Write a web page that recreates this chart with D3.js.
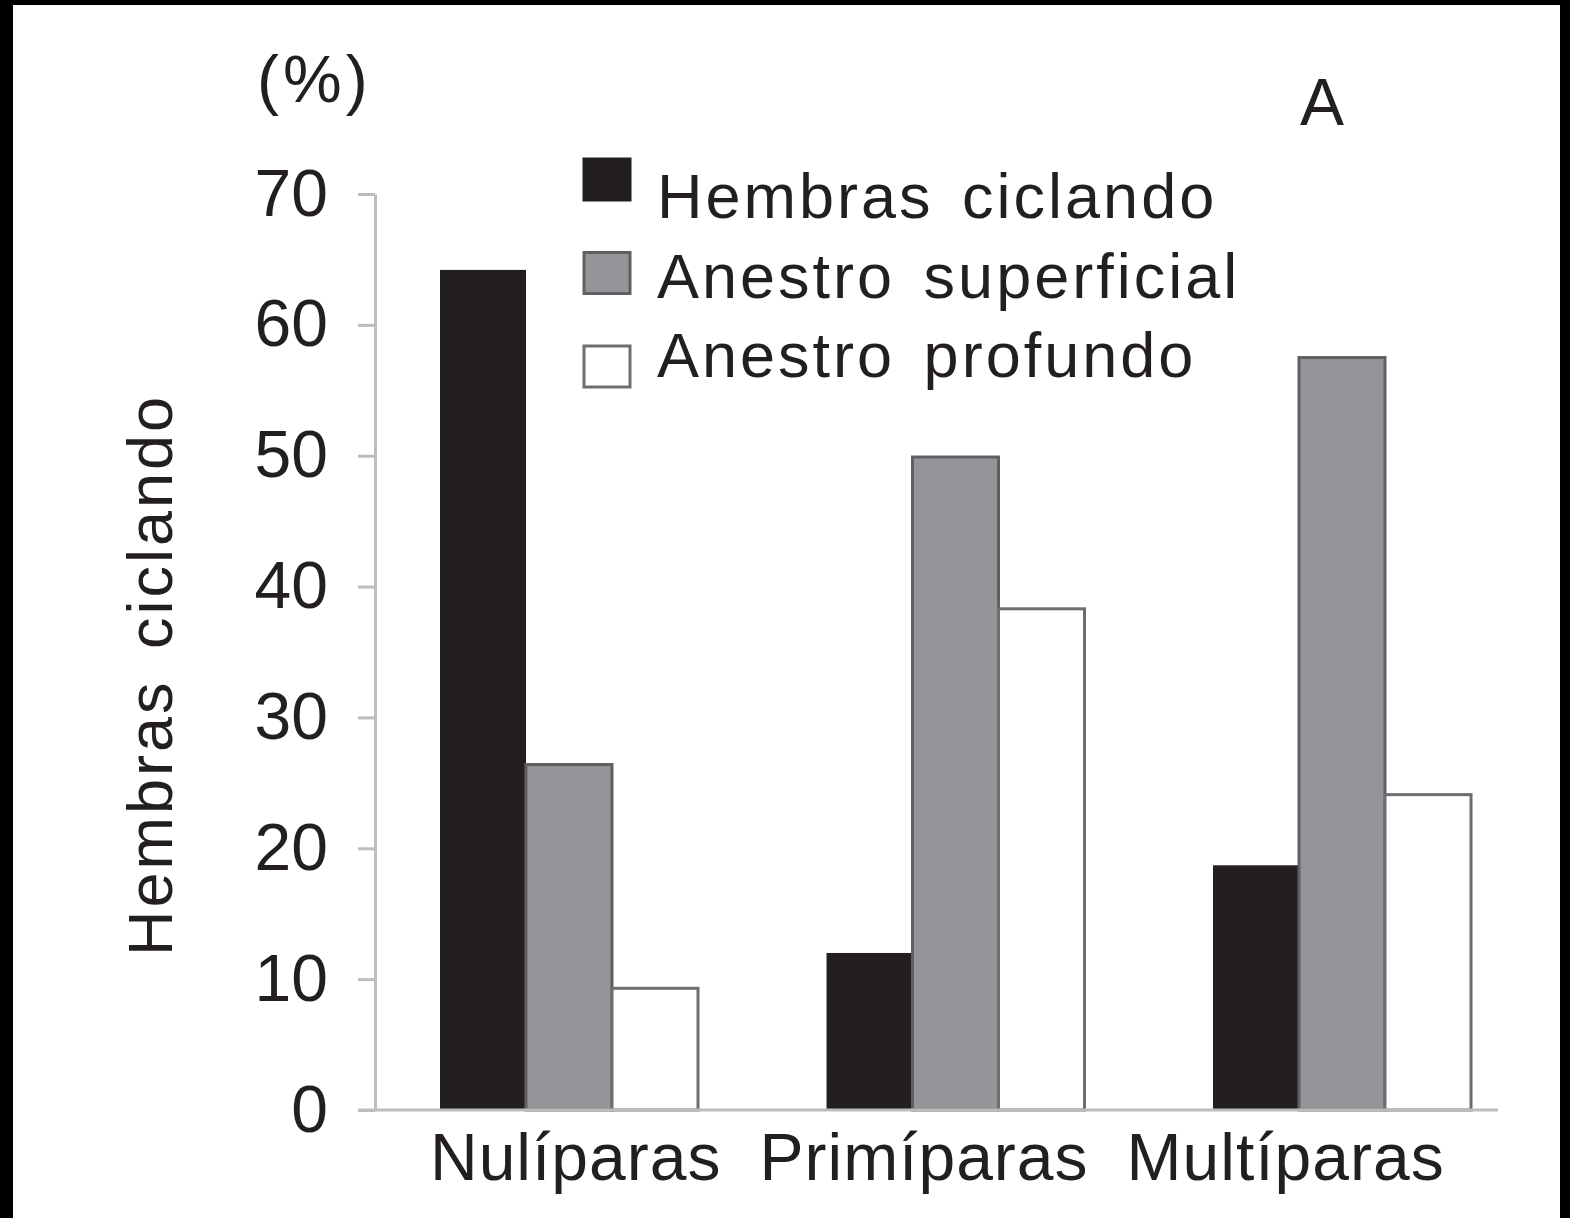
<!DOCTYPE html>
<html>
<head>
<meta charset="utf-8">
<script src="https://cdn.jsdelivr.net/npm/d3@7"></script>
<style>
  body { margin: 0; background: #000; }
  text { font-family: "Liberation Sans", Arial, sans-serif; fill: #231f20; }
</style>
</head>
<body>
<svg id="chart" width="1570" height="1218"></svg>
<script>
// data
var categories = ["Nulíparas", "Primíparas", "Multíparas"];
var seriesNames = ["Hembras ciclando", "Anestro superficial", "Anestro profundo"];
var ciclando = [64.2, 12.0, 18.7];
var superficial = [26.4, 49.9, 57.5];
var profundo = [9.3, 38.3, 24.1];
var yTicks = [0, 10, 20, 30, 40, 50, 60, 70];

var fills = ["#231f20", "#939598", "#ffffff"];
var strokes = ["none", "#5f6062", "#6d6e70"];

var svg = d3.select("#chart");

// black frame round the picture
svg.append("rect").attr("width", 1570).attr("height", 1218).attr("fill", "#000");
svg.append("rect").attr("x", 13).attr("y", 5).attr("width", 1547).attr("height", 1213).attr("fill", "#fff");

var y = d3.scaleLinear().domain([0, 70]).range([1110, 194]);

var x0 = d3.scaleBand().domain(categories).range([375, 375 + 3 * 386.5]);
var x1 = d3.scaleBand().domain(seriesNames).range([65, 65 + 3 * 86]);

var rows = categories.map(function (c, i) {
  return { cat: c, vals: [ciclando[i], superficial[i], profundo[i]] };
});

// bars
var groups = svg.selectAll("g.grp").data(rows).enter().append("g")
  .attr("class", "grp")
  .attr("transform", function (d) { return "translate(" + x0(d.cat) + ",0)"; });

groups.selectAll("rect").data(function (d) {
    return d.vals.map(function (v, j) { return { name: seriesNames[j], v: v, j: j }; });
  })
  .enter().append("rect")
  .attr("x", function (d) { return x1(d.name); })
  .attr("width", x1.bandwidth())
  .attr("y", function (d) { return y(d.v); })
  .attr("height", function (d) { return y(0) - y(d.v); })
  .attr("fill", function (d) { return fills[d.j]; })
  .attr("stroke", function (d) { return strokes[d.j]; })
  .attr("stroke-width", 3);

// y axis
var yAxis = svg.append("g").attr("transform", "translate(375,0)")
  .call(d3.axisLeft(y).tickValues(yTicks).tickSize(17).tickPadding(30).tickSizeOuter(0));
yAxis.select(".domain").attr("stroke", "#bdbdbd").attr("stroke-width", 3);
yAxis.selectAll(".tick line").attr("stroke", "#bdbdbd").attr("stroke-width", 3);
yAxis.selectAll(".tick text")
  .style("font-family", "'Liberation Sans', Arial, sans-serif")
  .style("font-size", "66px").attr("fill", "#231f20");

// x axis line
svg.append("line")
  .attr("x1", 358).attr("x2", 1498)
  .attr("y1", y(0)).attr("y2", y(0))
  .attr("stroke", "#bdbdbd").attr("stroke-width", 3);

// category labels, laid side by side as in the source
var lx = 430;
svg.selectAll("text.cat").data(categories).enter().append("text")
  .attr("class", "cat")
  .attr("y", 1180)
  .style("font-size", "66px")
  .style("letter-spacing", "1px")
  .text(function (d) { return d; })
  .each(function () {
    d3.select(this).attr("x", lx);
    lx += this.getComputedTextLength() + 38;
  });

// y title
svg.append("text")
  .attr("transform", "translate(172,675) rotate(-90)")
  .attr("text-anchor", "middle")
  .style("font-size", "63px")
  .style("letter-spacing", "3px")
  .style("word-spacing", "10px")
  .text("Hembras ciclando");

svg.append("text").attr("x", 257).attr("y", 102).style("font-size", "66px")
  .style("letter-spacing", "4px").text("(%)");
svg.append("text").attr("x", 1300).attr("y", 125).style("font-size", "66px").text("A");

// legend
var legend = svg.selectAll("g.leg").data(seriesNames).enter().append("g").attr("class", "leg");
legend.append("rect")
  .attr("x", 584)
  .attr("y", function (d, i) { return 159 + i * 93.5; })
  .attr("width", 46).attr("height", 41)
  .attr("fill", function (d, i) { return fills[i]; })
  .attr("stroke", function (d, i) { return i === 0 ? fills[0] : strokes[i]; })
  .attr("stroke-width", 3);
legend.append("text")
  .attr("x", 657)
  .attr("y", function (d, i) { return 218 + i * 79.5; })
  .style("font-size", "63px")
  .style("letter-spacing", "3px")
  .style("word-spacing", "8px")
  .text(function (d) { return d; });
</script>
</body>
</html>
